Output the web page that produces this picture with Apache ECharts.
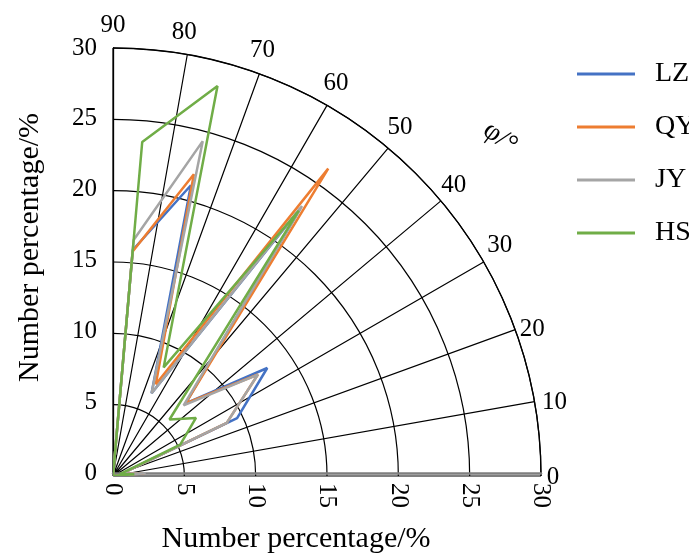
<!DOCTYPE html>
<html>
<head>
<meta charset="utf-8">
<script src="https://cdn.jsdelivr.net/npm/echarts@6/dist/echarts.min.js"></script>
<style>html,body{margin:0;padding:0;background:#fff;}#c{width:689px;height:559px;}</style>
</head>
<body>
<div id="c"></div>
<script>
// ---- data ----
const angles = [0, 5, 15, 25, 35, 45, 55, 65, 75, 85, 90];
const LZ = [0, 2.0, 0.6, 9.6, 13.2, 7.2, 22.9, 6.4, 21.1, 15.9, 0];
const QY = [0, 2.2, 0.6, 8.8, 12.4, 7.2, 26.3, 7.1, 21.9, 15.8, 0];
const JY = [0, 2.3, 0.6, 8.8, 12.4, 7.0, 23.1, 6.4, 24.3, 16.6, 0];
const HS = [0, 1.5, 0.5, 5.2, 7.1, 5.6, 22.7, 8.4, 28.3, 23.5, 0];
const seriesNames = ['LZ', 'QY', 'JY', 'HS'];
const angleTicks = [0, 10, 20, 30, 40, 50, 60, 70, 80, 90];
const axisName = 'Number percentage/%';
const angleName = 'φ/°';

// ---- styles ----
const seriesColors = ['#4472C4', '#ED7D31', '#A5A5A5', '#70AD47'];
const angleLabelOffsets = [[12, 1], [20, 1], [17, 0], [16, -17], [13, -15], [12, -21], [9, -22], [3, -23], [-3, -22], [0, -23]];
const seriesValues = [LZ, QY, JY, HS];

const FONT = '"Liberation Serif", "Times New Roman", serif';
const chart = echarts.init(document.getElementById('c'));
const cx = 113, cy = 476, R = 428;

const lineSeries = seriesNames.map((n, i) => ({
  name: n, type: 'line', coordinateSystem: 'polar', symbol: 'none',
  color: seriesColors[i], z: 3,
  lineStyle: { width: 2.5, color: seriesColors[i] },
  data: seriesValues[i].map((v, j) => [v, angles[j]])
}));

const angleLabelSeries = {
  name: 'angleTicks', type: 'scatter', coordinateSystem: 'polar',
  symbolSize: 1, silent: true, z: 4,
  itemStyle: { color: 'rgba(0,0,0,0)' },
  label: {
    show: true, position: 'inside', fontSize: 25, fontFamily: FONT, color: '#000',
    textBorderWidth: 0, textBorderColor: 'transparent', opacity: 1,
    formatter: p => String(p.value[1])
  },
  data: angleTicks.map((a, i) => ({ value: [30, a], label: { offset: angleLabelOffsets[i] } }))
};

chart.setOption({
  backgroundColor: '#fff',
  animation: false,
  textStyle: { fontFamily: FONT, color: '#000' },
  polar: { center: [cx, cy], radius: R },
  angleAxis: {
    type: 'value', min: 0, max: 90, interval: 10,
    startAngle: 0, endAngle: 90, clockwise: false,
    axisLine: { show: true, lineStyle: { color: '#000', width: 1.3 } },
    axisTick: { show: false },
    splitLine: { show: true, lineStyle: { color: '#000', width: 1.2 } },
    axisLabel: { show: false }
  },
  radiusAxis: {
    type: 'value', min: 0, max: 30, interval: 5,
    axisLine: { show: false }, axisTick: { show: false }, axisLabel: { show: false },
    splitLine: { show: true, lineStyle: { color: '#000', width: 1.2 } }
  },
  grid: { left: cx, top: cy - R, width: R, height: R },
  xAxis: {
    type: 'value', min: 0, max: 30, interval: 5,
    axisLine: { show: true, onZero: false, lineStyle: { color: '#7f7f7f', width: 2.5 } },
    axisTick: { show: false }, splitLine: { show: false },
    axisLabel: { rotate: -90, margin: 10, fontSize: 25, fontFamily: FONT, color: '#000', padding: [8, 0, 0, 0] },
    name: axisName, nameLocation: 'middle', nameGap: 51,
    nameTextStyle: { fontSize: 30, fontFamily: FONT, color: '#000', padding: [0, 62, 0, 0] }
  },
  yAxis: {
    type: 'value', min: 0, max: 30, interval: 5,
    axisLine: { show: true, onZero: false, lineStyle: { color: '#000', width: 1.3 } },
    axisTick: { show: false }, splitLine: { show: false },
    axisLabel: { margin: 16, fontSize: 25, fontFamily: FONT, color: '#000' },
    name: axisName, nameLocation: 'middle', nameGap: 68, nameRotate: 90,
    nameTextStyle: { fontSize: 30, fontFamily: FONT, color: '#000', padding: [0, 0, 0, 26] }
  },
  legend: {
    orient: 'vertical', left: 572, top: 55,
    itemWidth: 58, itemHeight: 3, itemGap: 25, icon: 'rect',
    data: seriesNames,
    textStyle: { fontSize: 28, fontFamily: FONT, color: '#000', padding: [0, 0, 0, 15] }
  },
  graphic: [{
    type: 'text', x: 500, y: 138, rotation: -0.65,
    style: { text: angleName, font: '28px ' + FONT, fill: '#000', align: 'center', verticalAlign: 'middle' }
  }],
  series: lineSeries.concat([angleLabelSeries])
});
</script>
</body>
</html>
